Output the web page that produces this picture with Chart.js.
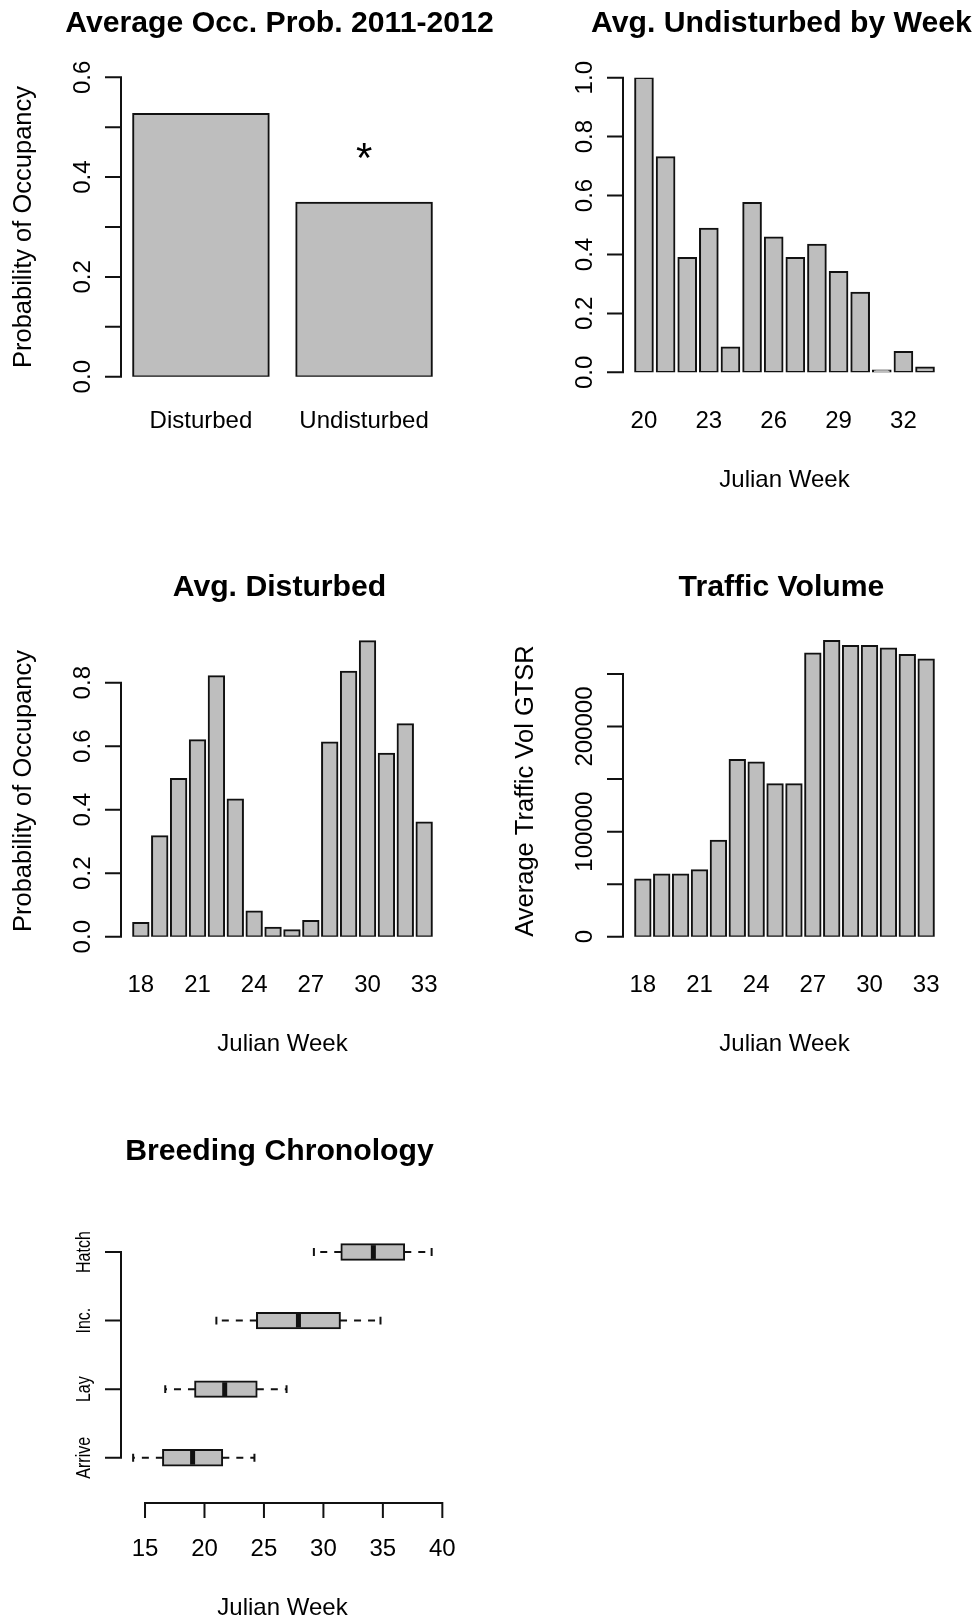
<!DOCTYPE html>
<html lang="en">
<head>
  <meta charset="UTF-8" />
  <title>Occupancy and traffic by Julian week</title>
  <script src="https://cdn.jsdelivr.net/npm/chart.js"></script>
  <style>
    body {
      margin: 0;
      background: #fff;
    }
    #page {
      position: relative;
      width: 977px;
      height: 1617px;
      overflow: hidden;
    }
    #page canvas {
      position: absolute;
    }
  </style>
</head>
<body>

  <div id="page">
    <canvas id="undChart" width="489" height="564" style="left:488px;top:0"></canvas>
    <canvas id="trafficChart" width="489" height="564" style="left:488px;top:564px"></canvas>
    <!-- left panels are a bit wider so long titles are not cut off -->
    <canvas id="occChart" width="520" height="564" style="left:0;top:0"></canvas>
    <canvas id="distChart" width="520" height="564" style="left:0;top:564px"></canvas>
    <canvas id="chronoChart" width="520" height="489" style="left:0;top:1128px"></canvas>
  </div>

  <script>
    // --- data ---
    const occCategories = ['Disturbed', 'Undisturbed'];
    const occValues = [0.527, 0.349];
    const occYTicks = [0, 0.1, 0.2, 0.3, 0.4, 0.5, 0.6];
    const occYLabels = ['0.0', '', '0.2', '', '0.4', '', '0.6'];
    const occMarkAt = 'Undisturbed';
    const occMarkValue = 0.45;

    const undWeeks = [20, 21, 22, 23, 24, 25, 26, 27, 28, 29, 30, 31, 32, 33];
    const undValues = [1.0, 0.731, 0.389, 0.488, 0.085, 0.575, 0.458, 0.389, 0.434, 0.341, 0.271, 0, 0.070, 0.017];
    const undYTicks = [0, 0.2, 0.4, 0.6, 0.8, 1.0];
    const undYLabels = ['0.0', '0.2', '0.4', '0.6', '0.8', '1.0'];
    const undWeekLabels = [20, 23, 26, 29, 32];

    const distWeeks = [18, 19, 20, 21, 22, 23, 24, 25, 26, 27, 28, 29, 30, 31, 32, 33];
    const distValues = [0.044, 0.317, 0.497, 0.619, 0.821, 0.433, 0.080, 0.029, 0.021, 0.050, 0.612, 0.835, 0.931, 0.577, 0.670, 0.360];
    const distYTicks = [0, 0.2, 0.4, 0.6, 0.8];
    const distYLabels = ['0.0', '0.2', '0.4', '0.6', '0.8'];
    const distWeekLabels = [18, 21, 24, 27, 30, 33];

    const trafficWeeks = [18, 19, 20, 21, 22, 23, 24, 25, 26, 27, 28, 29, 30, 31, 32, 33];
    const trafficValues = [54600, 59400, 59400, 63500, 91400, 168300, 166000, 145400, 145400, 269800, 281600, 276800, 276800, 274600, 268300, 264100];
    const trafficYTicks = [0, 50000, 100000, 150000, 200000, 250000];
    const trafficYLabels = ['0', '', '100000', '', '200000', ''];
    const trafficWeekLabels = [18, 21, 24, 27, 30, 33];

    const stages = ['Arrive', 'Lay', 'Inc.', 'Hatch'];
    const stageMin = [14.0, 16.7, 21.0, 29.2];
    const stageQ1 = [16.5, 19.2, 24.4, 31.5];
    const stageMed = [19.0, 21.7, 27.9, 34.2];
    const stageQ3 = [21.5, 24.4, 31.4, 36.8];
    const stageMax = [24.2, 26.9, 34.8, 39.1];
    const chronoXTicks = [15, 20, 25, 30, 35, 40];

    // --- drawing helpers ---
    const FONT = '"Liberation Sans", Arial, sans-serif';

    // R barplot x limits: bars 1/1.2 wide, plus 4% on each side
    function rRange(first, last) {
      const lo = first - 0.5 / 1.2, hi = last + 0.5 / 1.2;
      const e = 0.04 * (hi - lo);
      return [lo - e, hi + e];
    }

    // keep the bar ruler on the data positions only
    function ticksAt(values) {
      return scale => { scale.ticks = values.map(v => ({ value: v })); };
    }

    // R-like axes, titles and labels drawn from the chart's own scales
    const rAxes = {
      id: 'rAxes',
      afterDraw(chart, args, o) {
        const ctx = chart.ctx;
        const a = chart.chartArea;
        const xs = chart.scales.x, ys = chart.scales.y;
        const mid = (a.left + a.right) / 2;
        ctx.save();
        ctx.fillStyle = '#000';
        ctx.strokeStyle = '#111';
        ctx.lineWidth = 2;
        ctx.lineCap = 'square';
        ctx.textBaseline = 'alphabetic';
        ctx.textAlign = 'center';

        ctx.font = 'bold 30.2px ' + FONT;
        ctx.fillText(o.title, mid - 3, 32);

        // y axis: line only spans the ticks
        const py = o.yTicks.map(v => ys.getPixelForValue(v));
        ctx.beginPath();
        ctx.moveTo(a.left, py[0]);
        ctx.lineTo(a.left, py[py.length - 1]);
        py.forEach(p => { ctx.moveTo(a.left, p); ctx.lineTo(a.left - 15, p); });
        ctx.stroke();
        ctx.font = (o.yFont || '24px') + ' ' + FONT;
        py.forEach((p, i) => {
          if (!o.yLabels[i]) return;
          ctx.save();
          ctx.translate(a.left - 31, p);
          ctx.rotate(-Math.PI / 2);
          if (o.yCondense) ctx.scale(o.yCondense, 1);
          ctx.fillText(o.yLabels[i], 0, 0);
          ctx.restore();
        });

        ctx.font = '24px ' + FONT;
        // x axis line (boxplot only)
        if (o.xTicks) {
          const px = o.xTicks.map(v => xs.getPixelForValue(v));
          ctx.beginPath();
          ctx.moveTo(px[0], a.bottom);
          ctx.lineTo(px[px.length - 1], a.bottom);
          px.forEach(p => { ctx.moveTo(p, a.bottom); ctx.lineTo(p, a.bottom + 14); });
          ctx.stroke();
        }
        o.xAt.forEach((v, i) => ctx.fillText(o.xLabels[i], xs.getPixelForValue(v), 428));
        if (o.xTitle) ctx.fillText(o.xTitle, mid, 487);
        if (o.yTitle) {
          ctx.save();
          ctx.font = '25.5px ' + FONT;
          ctx.translate(a.left - 90, 227);
          ctx.rotate(-Math.PI / 2);
          ctx.fillText(o.yTitle, 0, 0);
          ctx.restore();
        }
        if (o.mark) {
          ctx.font = '42px ' + FONT;
          ctx.fillText(o.mark.text, xs.getPixelForValue(o.mark.x), ys.getPixelForValue(o.mark.y) + 20);
        }
        ctx.restore();
      }
    };

    // whiskers, staples and medians for the breeding boxplot
    const boxWhiskers = {
      id: 'boxWhiskers',
      afterDatasetsDraw(chart) {
        const ctx = chart.ctx;
        const xs = chart.scales.x, ys = chart.scales.y;
        const bars = chart.getDatasetMeta(0).data;
        ctx.save();
        ctx.strokeStyle = '#111';
        stages.forEach((s, i) => {
          const y = ys.getPixelForValue(i + 1);
          const h = bars[i].height / 2;
          ctx.lineWidth = 2;
          ctx.setLineDash([7, 7]);
          ctx.beginPath();
          ctx.moveTo(xs.getPixelForValue(stageQ1[i]), y);
          ctx.lineTo(xs.getPixelForValue(stageMin[i]), y);
          ctx.moveTo(xs.getPixelForValue(stageQ3[i]), y);
          ctx.lineTo(xs.getPixelForValue(stageMax[i]), y);
          ctx.stroke();
          ctx.setLineDash([]);
          ctx.beginPath();
          [stageMin[i], stageMax[i]].forEach(v => {
            const x = xs.getPixelForValue(v);
            ctx.moveTo(x, y - h / 2);
            ctx.lineTo(x, y + h / 2);
          });
          ctx.stroke();
          ctx.lineWidth = 5;
          ctx.beginPath();
          const xm = xs.getPixelForValue(stageMed[i]);
          ctx.moveTo(xm, y - h + 1);
          ctx.lineTo(xm, y + h - 1);
          ctx.stroke();
        });
        ctx.restore();
      }
    };

    function padFor(canvas, area) {
      return {
        left: area.left,
        right: canvas.width - area.right,
        top: area.top,
        bottom: canvas.height - area.bottom
      };
    }

    function makeBarChart(id, positions, values, yMax, area, axes) {
      const canvas = document.getElementById(id);
      const [xMin, xMax] = rRange(positions[0], positions[positions.length - 1]);
      return new Chart(canvas, {
        type: 'bar',
        data: {
          datasets: [{
            data: positions.map((p, i) => ({ x: p, y: values[i] })),
            backgroundColor: '#bebebe',
            borderColor: '#111',
            borderWidth: 2,
            borderSkipped: false,
            inflateAmount: 0.8,
            minBarLength: 2,
            categoryPercentage: 1,
            barPercentage: 1 / 1.2
          }]
        },
        options: {
          responsive: false,
          animation: false,
          layout: { padding: padFor(canvas, area) },
          plugins: { legend: { display: false }, tooltip: { enabled: false }, rAxes: axes },
          scales: {
            x: { type: 'linear', display: false, offset: false, min: xMin, max: xMax, afterBuildTicks: ticksAt(positions) },
            y: { type: 'linear', display: false, beginAtZero: true, min: 0, max: yMax }
          }
        },
        plugins: [rAxes]
      });
    }

    const occPositions = occCategories.map((c, i) => i + 1);
    makeBarChart('occChart', occPositions, occValues, 0.6,
      { left: 121, right: 444, top: 77.3, bottom: 376.7 },
      {
        title: 'Average Occ. Prob. 2011-2012',
        yTicks: occYTicks, yLabels: occYLabels,
        yTitle: 'Probability of Occupancy',
        xAt: occPositions, xLabels: occCategories,
        mark: { text: '*', x: occCategories.indexOf(occMarkAt) + 1, y: occMarkValue }
      });

    makeBarChart('undChart', undWeeks, undValues, 1.0,
      { left: 135, right: 458, top: 77.7, bottom: 372.3 },
      {
        title: 'Avg. Undisturbed by Week',
        yTicks: undYTicks, yLabels: undYLabels,
        xAt: undWeekLabels, xLabels: undWeekLabels.map(String),
        xTitle: 'Julian Week'
      });

    makeBarChart('distChart', distWeeks, distValues, 1.0,
      { left: 121, right: 444, top: 55.2, bottom: 372.7 },
      {
        title: 'Avg. Disturbed',
        yTicks: distYTicks, yLabels: distYLabels,
        yTitle: 'Probability of Occupancy',
        xAt: distWeekLabels, xLabels: distWeekLabels.map(String),
        xTitle: 'Julian Week'
      });

    makeBarChart('trafficChart', trafficWeeks, trafficValues, 300000,
      { left: 135, right: 458, top: 57.5, bottom: 372.7 },
      {
        title: 'Traffic Volume',
        yTicks: trafficYTicks, yLabels: trafficYLabels,
        yTitle: 'Average Traffic Vol GTSR',
        xAt: trafficWeekLabels, xLabels: trafficWeekLabels.map(String),
        xTitle: 'Julian Week'
      });

    // horizontal boxplot: boxes are floating bars, whiskers from the plugin
    const chronoCanvas = document.getElementById('chronoChart');
    const stagePositions = stages.map((s, i) => i + 1);
    new Chart(chronoCanvas, {
      type: 'bar',
      data: {
        datasets: [{
          data: stagePositions.map((p, i) => ({ y: p, x: [stageQ1[i], stageQ3[i]] })),
          backgroundColor: '#bebebe',
          borderColor: '#111',
          borderWidth: 2,
          borderSkipped: false,
          inflateAmount: 0.8,
          categoryPercentage: 1,
          barPercentage: 0.23
        }]
      },
      options: {
        indexAxis: 'y',
        responsive: false,
        animation: false,
        layout: { padding: padFor(chronoCanvas, { left: 121, right: 444, top: 78.8, bottom: 375 }) },
        plugins: {
          legend: { display: false },
          tooltip: { enabled: false },
          rAxes: {
            title: 'Breeding Chronology',
            yTicks: stagePositions, yLabels: stages, yFont: '20px', yCondense: 0.8,
            xTicks: chronoXTicks,
            xAt: chronoXTicks, xLabels: chronoXTicks.map(String),
            xTitle: 'Julian Week'
          }
        },
        scales: {
          x: { type: 'linear', display: false, beginAtZero: false, min: 12.98, max: 40.14 },
          y: { type: 'linear', display: false, offset: false, min: 0.34, max: 4.66, afterBuildTicks: ticksAt(stagePositions) }
        }
      },
      plugins: [rAxes, boxWhiskers]
    });
  </script>

</body>
</html>
